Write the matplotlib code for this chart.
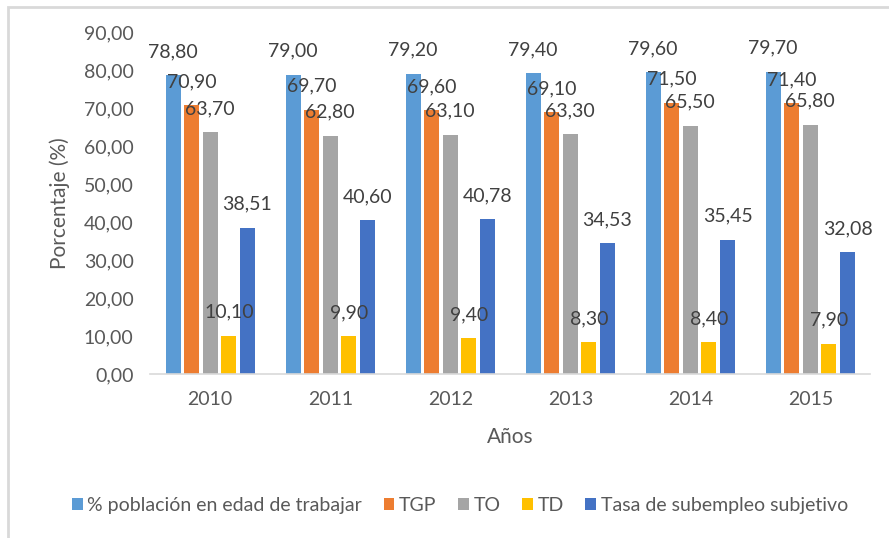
import numpy as np
import matplotlib.pyplot as plt
from matplotlib.patches import Rectangle

plt.rcParams['font.family'] = ['Lato', 'DejaVu Sans']

years = ['2010', '2011', '2012', '2013', '2014', '2015']
series_names = ['% población en edad de trabajar', 'TGP', 'TO', 'TD',
                'Tasa de subempleo subjetivo']
pet = [78.80, 79.00, 79.20, 79.40, 79.60, 79.70]
tgp = [70.90, 69.70, 69.60, 69.10, 71.50, 71.40]
to = [63.70, 62.80, 63.10, 63.30, 65.50, 65.80]
td = [10.10, 9.90, 9.40, 8.30, 8.40, 7.90]
subempleo = [38.51, 40.60, 40.78, 34.53, 35.45, 32.08]
colors = ['#5B9BD5', '#ED7D31', '#A5A5A5', '#FFC000', '#4472C4']

fig = plt.figure(figsize=(8.89, 5.38), dpi=100)
ax = fig.add_axes([0.169, 0.305, 0.81, 0.634])

# light frame around the chart area
fig.patches.append(Rectangle((0.009, -0.05), 1.2, 1.037, transform=fig.transFigure,
                             fill=False, edgecolor='#D9D9D9', linewidth=2))

x = np.arange(len(years))
width = 0.125
step = 0.155
all_series = [pet, tgp, to, td, subempleo]
for i, (vals, name, c) in enumerate(zip(all_series, series_names, colors)):
    pos = x + (i - 2) * step
    ax.bar(pos, vals, width, color=c, label=name)
    for px, v in zip(pos, vals):
        ax.annotate(f'{v:.2f}'.replace('.', ','), (px, v), xytext=(0, 17),
                    textcoords='offset points', ha='center', va='center',
                    fontsize=14, color='#404040')

ax.set_xlim(-0.5, 5.5)
ax.set_ylim(0, 90)
ax.set_yticks(np.arange(0, 91, 10))
ax.set_yticklabels([f'{t:.2f}'.replace('.', ',') for t in np.arange(0, 91, 10)])
ax.set_xticks(x)
ax.set_xticklabels(years)
ax.tick_params(axis='both', length=0, labelsize=14, labelcolor='#595959')
ax.tick_params(axis='y', pad=12)
ax.tick_params(axis='x', pad=12)
for s in ['top', 'right', 'left']:
    ax.spines[s].set_visible(False)
ax.spines['bottom'].set_color('#D9D9D9')
ax.spines['bottom'].set_linewidth(1.2)

ax.set_ylabel('Porcentaje (%)', fontsize=15, color='#595959', labelpad=10)
ax.set_xlabel('Años', fontsize=15, color='#595959', labelpad=14)

ax.legend(loc='center', bbox_to_anchor=(0.43, -0.385), ncol=5, frameon=False,
          fontsize=14, labelcolor='#595959', handlelength=0.55, handleheight=0.55,
          handletextpad=0.25, columnspacing=1.1)

fig.savefig('out.png', dpi=100)
